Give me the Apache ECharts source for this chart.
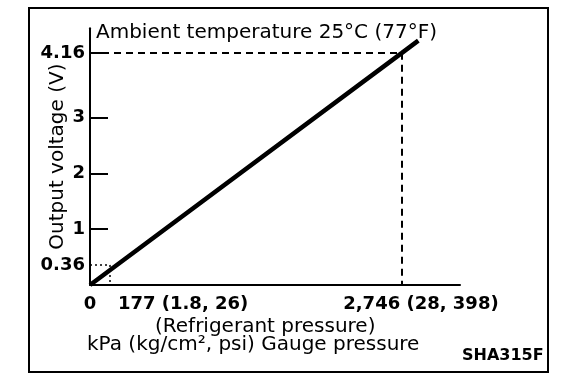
<!DOCTYPE html>
<html>
<head>
<meta charset="utf-8">
<script src="https://cdn.jsdelivr.net/npm/echarts@6/dist/echarts.min.js"></script>
<style>html,body{margin:0;padding:0;background:#fff;}#c{width:576px;height:388px;}</style>
</head>
<body>
<div id="c"></div>
<script>
const xTickValues = [0, 177, 2746];
const xTickLabels = ['0', '177 (1.8, 26)', '2,746 (28, 398)'];
const yTickValues = [0.36, 1, 2, 3, 4.16];
const yTickLabels = ['0.36', '1', '2', '3', '4.16'];
const yTickMarks = [1, 2, 3, 4.16];
const pressureKPa = [0, 2746, 2890];
const outputVoltage = [0, 4.16, 4.38];
const refLow = [177, 0.36];
const refHigh = [2746, 4.16];

const F = 'DejaVu Sans';
const chart = echarts.init(document.getElementById('c'));
const xPad = [0, 146, 38];
const rich = {};
xTickLabels.forEach((t, i) => {
  rich['p' + i] = { fontFamily: F, fontWeight: 'bold', fontSize: 18, color: '#000', padding: [0, 0, 0, xPad[i]] };
});

chart.setOption({
  animation: false,
  backgroundColor: '#fff',
  title: [
    { text: 'Ambient temperature 25°C (77°F)', left: 96, top: 23, padding: 0,
      textStyle: { fontFamily: F, fontWeight: 'normal', fontSize: 20, color: '#000' } },
    { text: '(Refrigerant pressure)', left: 155, top: 317, padding: 0,
      textStyle: { fontFamily: F, fontWeight: 'normal', fontSize: 20, color: '#000' } },
    { text: 'kPa (kg/cm², psi) Gauge pressure', left: 87, top: 335, padding: 0,
      textStyle: { fontFamily: F, fontWeight: 'normal', fontSize: 20, color: '#000' } },
    { text: 'SHA315F', left: 462, top: 348, padding: 0,
      textStyle: { fontFamily: F, fontWeight: 'bold', fontSize: 16, color: '#000' } }
  ],
  graphic: [
    { type: 'rect', shape: { x: 29, y: 8, width: 519, height: 364 },
      style: { fill: 'none', stroke: '#000', lineWidth: 2 }, silent: true }
  ],
  grid: { left: 90, right: 116, top: 28.3, bottom: 103 },
  xAxis: {
    type: 'value', min: 0, max: 3257,
    splitLine: { show: false },
    axisLine: { show: true, onZero: false, lineStyle: { color: '#000', width: 2 } },
    axisTick: { show: false },
    axisLabel: {
      customValues: xTickValues, margin: 10,
      formatter: function (v) {
        const i = xTickValues.indexOf(v);
        return i < 0 ? '' : '{p' + i + '|' + xTickLabels[i] + '}';
      },
      rich: rich,
      fontFamily: F, fontWeight: 'bold', fontSize: 18, color: '#000'
    }
  },
  yAxis: {
    type: 'value', min: 0, max: 4.6,
    name: 'Output voltage (V)', nameLocation: 'middle', nameRotate: 90, nameGap: 22,
    nameMoveOverlap: false,
    nameTextStyle: { fontFamily: F, fontSize: 20, color: '#000' },
    splitLine: { show: false },
    axisLine: { show: true, onZero: false, lineStyle: { color: '#000', width: 2 } },
    axisTick: { show: true, inside: true, length: 18, customValues: yTickMarks, lineStyle: { color: '#000', width: 2 } },
    axisLabel: {
      customValues: yTickValues, margin: 5,
      formatter: function (v) {
        const i = yTickValues.indexOf(v);
        return i < 0 ? '' : yTickLabels[i];
      },
      fontFamily: F, fontWeight: 'bold', fontSize: 18, color: '#000'
    }
  },
  series: [
    {
      type: 'line',
      data: pressureKPa.map((p, i) => [p, outputVoltage[i]]),
      showSymbol: false, symbol: 'none',
      lineStyle: { color: '#000', width: 4.5 },
      markLine: {
        silent: true, symbol: 'none', label: { show: false },
        data: [
          [{ coord: [0, refHigh[1]], lineStyle: { type: [7, 5], width: 2, color: '#000' } }, { coord: refHigh }],
          [{ coord: refHigh, lineStyle: { type: [7, 5], width: 2, color: '#000' } }, { coord: [refHigh[0], 0] }],
          [{ coord: [0, refLow[1]], lineStyle: { type: [2, 3], width: 1.5, color: '#000' } }, { coord: refLow }],
          [{ coord: refLow, lineStyle: { type: [2, 3], width: 1.5, color: '#000' } }, { coord: [refLow[0], 0] }]
        ]
      }
    }
  ]
});
</script>
</body>
</html>
